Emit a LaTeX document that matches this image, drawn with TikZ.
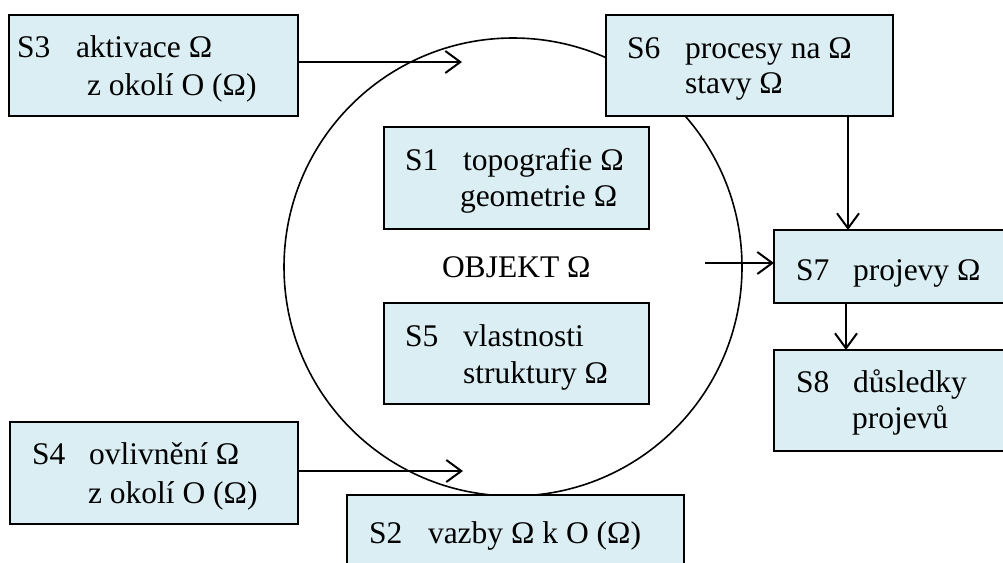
\documentclass[tikz,border=0pt]{standalone}
\usepackage{fontspec}
\setmainfont{Liberation Serif}
\usetikzlibrary{arrows.meta}
\definecolor{boxfill}{HTML}{DAEEF3}
\tikzset{
  box/.style={draw=black, line width=2pt, fill=boxfill, inner sep=0pt, outer sep=0pt, anchor=north west},
  txt/.style={inner sep=0pt, outer sep=0pt, anchor=base west, font=\fontsize{31.5}{36}\selectfont},
  conn/.style={line width=2pt, -{Straight Barb[length=15pt,width=22pt,line width=2pt]}},
  ring/.style={line width=1.6pt}
}
\begin{document}
\begin{tikzpicture}[x=1pt,y=-1pt]
\useasboundingbox (0,0) rectangle (1003,562);
\clip (0,0) rectangle (1003,562);
% object circle
\node[ring, draw, circle, minimum size=458pt, inner sep=0pt] (obj) at (513,267) {};
% boxes
\node[box, minimum width=289pt, minimum height=101pt] (s3) at (9,15) {};
\node[box, minimum width=287pt, minimum height=101pt] (s6) at (606,15) {};
\node[box, minimum width=265pt, minimum height=102pt] (s1) at (384,127) {};
\node[box, minimum width=265pt, minimum height=101pt] (s5) at (384,303) {};
\node[box, minimum width=288pt, minimum height=102pt] (s4) at (10,422) {};
\node[box, minimum width=337pt, minimum height=90pt] (s2) at (347,495) {};
\node[box, minimum width=240pt, minimum height=73pt] (s7) at (774,230) {};
\node[box, minimum width=240pt, minimum height=101pt] (s8) at (774,350) {};
% texts
\node[txt] (t3a) at (17,57) {S3};
\node[txt] (t3b) at (76,57) {aktivace Ω};
\node[txt] (t3c) at (87,95) {z okolí O (Ω)};
\node[txt] (t6a) at (627,58) {S6};
\node[txt] (t6b) at (685,58) {procesy na Ω};
\node[txt] (t6c) at (685,93) {stavy Ω};
\node[txt] (t1a) at (405,170) {S1};
\node[txt] (t1b) at (463,170) {topografie Ω};
\node[txt] (t1c) at (460,206) {geometrie Ω};
\node[txt] (tobj) at (442,277) {OBJEKT Ω};
\node[txt] (t5a) at (405,346) {S5};
\node[txt] (t5b) at (463,346) {vlastnosti};
\node[txt] (t5c) at (463,383) {struktury Ω};
\node[txt] (t4a) at (32,464) {S4};
\node[txt] (t4b) at (89,464) {ovlivnění Ω};
\node[txt] (t4c) at (88,503) {z okolí O (Ω)};
\node[txt] (t2a) at (369,543) {S2};
\node[txt] (t2b) at (428,543) {vazby Ω k O (Ω)};
\node[txt] (t7a) at (796,280) {S7};
\node[txt] (t7b) at (853,280) {projevy Ω};
\node[txt] (t8a) at (796,392) {S8};
\node[txt] (t8b) at (853,392) {důsledky};
\node[txt] (t8c) at (852,428) {projevů};
% connectors
\coordinate (a3) at (462,62);
\coordinate (a4) at (463,471);
\coordinate (o7) at (705,263);
\draw[conn] (s3.east |- a3) -- (a3);
\draw[conn] (s4.east |- a4) -- (a4);
\draw[conn] (o7) -- (s7.west |- o7);
\draw[conn] (s6.south -| 848,0) -- (s7.north -| 848,0);
\draw[conn] (s7.south -| 846,0) -- (s8.north -| 846,0);
\end{tikzpicture}
\end{document}
